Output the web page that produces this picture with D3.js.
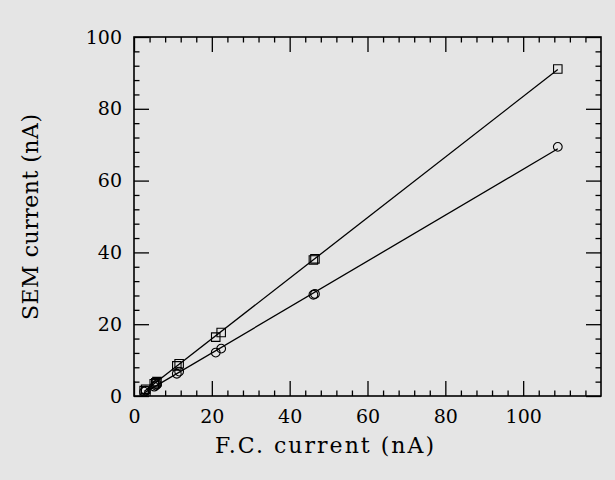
<!DOCTYPE html>
<html><head><meta charset="utf-8">
<script src="https://cdn.jsdelivr.net/npm/d3@7"></script>
<style>html,body{margin:0;padding:0;background:#e5e5e5;}svg{display:block;}</style>
</head><body><svg id="c" width="615" height="480"></svg>
<script>
const squareX = [2.6, 3.0, 5.2, 5.6, 5.9, 11.0, 11.6, 21.0, 22.4, 46.1, 46.5, 108.9];
const squareY = [1.5, 1.9, 3.4, 3.7, 4.0, 8.4, 9.0, 16.4, 17.7, 37.9, 38.2, 91.1];
const circleX = [2.6, 3.0, 5.2, 5.6, 5.9, 11.0, 11.6, 21.0, 22.4, 46.1, 46.5, 108.9];
const circleY = [1.2, 1.5, 2.6, 2.9, 3.2, 6.2, 6.8, 12.1, 13.2, 28.2, 28.4, 69.4];
const xTicks = [0, 20, 40, 60, 80, 100];
const yTicks = [0, 20, 40, 60, 80, 100];
const xLabel = "F.C. current (nA)";
const yLabel = "SEM current (nA)";

const L = 134, R = 601, T = 37, B = 396;
const svg = d3.select("#c");
const x = d3.scaleLinear().domain([0, 120]).range([L, R]);
const y = d3.scaleLinear().domain([0, 100]).range([B, T]);
const font = "'DejaVu Serif', serif";

svg.append("rect").attr("width", 615).attr("height", 480).attr("fill", "#e5e5e5");

const minorX = d3.range(0, 121, 4), minorY = d3.range(0, 101, 4);
const MAJ = 15, MIN = 5.5;
function axis(gen, transform) {
  const g = svg.append("g").attr("transform", transform).call(gen);
  g.select(".domain").remove();
  g.selectAll("line").attr("stroke", "#000").attr("stroke-width", 1.3);
  return g;
}
// bottom
axis(d3.axisBottom(x).tickValues(minorX.filter(v => v % 20)).tickSize(-MIN).tickFormat(""), `translate(0,${B})`);
const gb = axis(d3.axisBottom(x).tickValues(xTicks).tickSize(-MAJ).tickPadding(0).tickFormat(d3.format("d")), `translate(0,${B})`);
gb.selectAll("text").attr("font-family", font).attr("font-size", 19).attr("fill", "#000")
  .attr("dy", null).attr("y", 27);
// top
axis(d3.axisTop(x).tickValues(minorX.filter(v => v % 20)).tickSize(-MIN).tickFormat(""), `translate(0,${T})`);
axis(d3.axisTop(x).tickValues(xTicks).tickSize(-MAJ).tickFormat(""), `translate(0,${T})`);
// left
axis(d3.axisLeft(y).tickValues(minorY.filter(v => v % 20)).tickSize(-MIN).tickFormat(""), `translate(${L},0)`);
const gl = axis(d3.axisLeft(y).tickValues(yTicks).tickSize(-MAJ).tickPadding(0).tickFormat(d3.format("d")), `translate(${L},0)`);
gl.selectAll("text").attr("font-family", font).attr("font-size", 19).attr("fill", "#000").attr("x", -12);
// right
axis(d3.axisRight(y).tickValues(minorY.filter(v => v % 20)).tickSize(-MIN).tickFormat(""), `translate(${R},0)`);
axis(d3.axisRight(y).tickValues(yTicks).tickSize(-MAJ).tickFormat(""), `translate(${R},0)`);

svg.append("rect").attr("x", L).attr("y", T).attr("width", R - L).attr("height", B - T)
  .attr("fill", "none").attr("stroke", "#000").attr("stroke-width", 1.6);

function fit(xs, ys) {
  const mx = d3.mean(xs), my = d3.mean(ys);
  const b = d3.sum(xs, (v, i) => (v - mx) * (ys[i] - my)) / d3.sum(xs, v => (v - mx) ** 2);
  return { b, a: my - b * mx };
}
function series(xs, ys, sym) {
  const f = fit(xs, ys);
  const x0 = d3.min(xs), x1 = d3.max(xs);
  svg.append("line").attr("x1", x(x0)).attr("y1", y(f.a + f.b * x0))
    .attr("x2", x(x1)).attr("y2", y(f.a + f.b * x1))
    .attr("stroke", "#000").attr("stroke-width", 1.3);
  svg.append("g").selectAll("path").data(xs).join("path")
    .attr("d", d3.symbol().type(sym).size(sym === d3.symbolSquare ? 72 : 60))
    .attr("transform", (d, i) => `translate(${x(d)},${y(ys[i])})`)
    .attr("fill", "none").attr("stroke", "#000").attr("stroke-width", 1.1);
}
series(squareX, squareY, d3.symbolSquare);
series(circleX, circleY, d3.symbolCircle);

svg.append("text").attr("x", 215).attr("y", 453)
  .attr("font-family", font).attr("font-size", 22)
  .attr("textLength", 219).attr("lengthAdjust", "spacing").text(xLabel);
svg.append("text").attr("transform", `translate(38,320) rotate(-90)`)
  .attr("font-family", font).attr("font-size", 22)
  .attr("textLength", 206).attr("lengthAdjust", "spacing").text(yLabel);
</script></body></html>
